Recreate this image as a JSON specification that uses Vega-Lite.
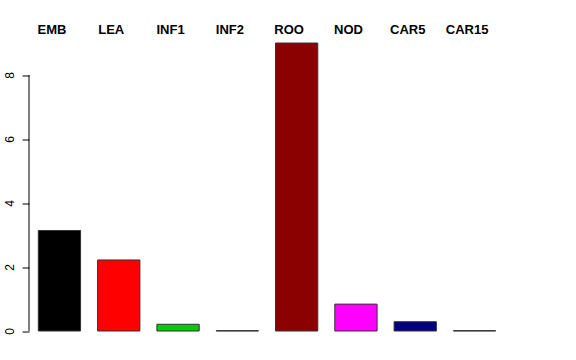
{
  "$schema": "https://vega.github.io/schema/vega-lite/v6.json",
  "width": 476,
  "height": 299.5,
  "autosize": "none",
  "padding": {"left": 29, "top": 31.5, "right": 71, "bottom": 29},
  "config": {"view": {"stroke": null}, "font": "Liberation Sans"},
  "layer": [
    {
      "data": {"values": [
        {"group": "EMB", "value": 3.14},
        {"group": "LEA", "value": 2.22},
        {"group": "INF1", "value": 0.21},
        {"group": "INF2", "value": 0.01},
        {"group": "ROO", "value": 9.0},
        {"group": "NOD", "value": 0.84},
        {"group": "CAR5", "value": 0.29},
        {"group": "CAR15", "value": 0.01}
      ]},
      "mark": {"type": "bar", "stroke": "#333333", "strokeWidth": 1},
      "encoding": {
        "x": {"field": "group", "type": "nominal", "sort": null,
          "scale": {"paddingInner": 0.287, "paddingOuter": 0.157},
          "axis": {"orient": "top", "title": null, "domain": false, "ticks": false, "labelAngle": 0,
            "labelFont": "Liberation Sans", "labelFontWeight": "bold", "labelFontSize": 13, "labelColor": "black",
            "labelOffset": -7.5, "labelPadding": -2, "labelBaseline": "alphabetic"}},
        "y": {"field": "value", "type": "quantitative",
          "scale": {"domain": [0, 9.36], "nice": false, "zero": true},
          "axis": {"values": [0, 2, 4, 6, 8], "title": null, "grid": false, "domain": false,
            "tickColor": "black", "tickSize": 7, "labelAngle": -90, "labelAlign": "center",
            "labelBaseline": "alphabetic", "labelPadding": 9, "labelFontSize": 12, "labelColor": "black",
            "labelFont": "Liberation Sans"}},
        "color": {"field": "group", "type": "nominal", "sort": null,
          "scale": {"domain": ["EMB", "LEA", "INF1", "INF2", "ROO", "NOD", "CAR5", "CAR15"],
            "range": ["#000000", "#FF0000", "#00CD00", "#0000FF", "#8B0000", "#FF00FF", "#000080", "#A52A2A"]},
          "legend": null}
      }
    },
    {
      "data": {"values": [{"lo": 0, "hi": 8}]},
      "mark": {"type": "rule", "color": "black", "strokeWidth": 1},
      "encoding": {
        "x": {"datum": 0, "type": "quantitative", "scale": {"domain": [0, 1]}, "axis": null},
        "y": {"field": "lo", "type": "quantitative"},
        "y2": {"field": "hi"}
      }
    }
  ],
  "resolve": {"scale": {"x": "independent"}}
}
